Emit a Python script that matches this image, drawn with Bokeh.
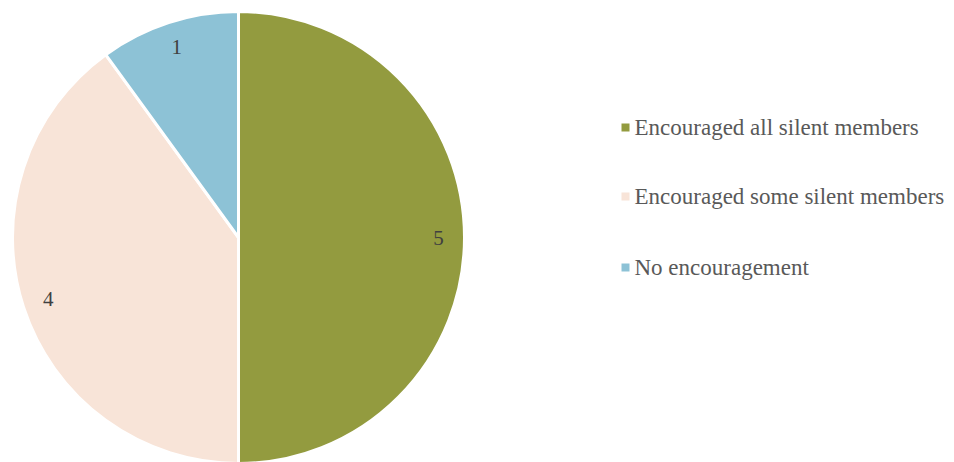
import math
from bokeh.plotting import figure
from bokeh.models import Range1d, ColumnDataSource
from bokeh.core.properties import value
from bokeh.embed import file_html
from bokeh.resources import INLINE

categories = ["Encouraged all silent members", "Encouraged some silent members", "No encouragement"]
counts = [5, 4, 1]
colors = ["#939B3F", "#F8E4D8", "#8DC2D6"]

W, H = 954, 462
p = figure(width=W, height=H, output_backend="svg", toolbar_location=None,
           x_range=Range1d(0, W), y_range=Range1d(0, H), min_border=0)
p.axis.visible = False
p.grid.visible = False
p.outline_line_color = None
p.background_fill_color = "white"
p.border_fill_color = "white"

cx, cy, R = 238, H - 237, 226
total = sum(counts)
starts, ends, mids = [], [], []
cum = 0
for c in counts:
    a0 = math.pi / 2 - 2 * math.pi * cum / total
    cum += c
    a1 = math.pi / 2 - 2 * math.pi * cum / total
    starts.append(a0); ends.append(a1); mids.append((a0 + a1) / 2)

src = ColumnDataSource(dict(start=starts, end=ends, color=colors, cat=categories))
p.wedge(x=cx, y=cy, radius=R, start_angle="start", end_angle="end", direction="clock",
        fill_color="color", line_color="white", line_width=3, source=src)

lr = 0.885 * R
lx = [cx + lr * math.cos(m) for m in mids]
ly = [cy + lr * math.sin(m) for m in mids]
p.text(x=lx, y=ly, text=[str(c) for c in counts], text_align="center", text_baseline="middle",
       text_font=value("Liberation Serif"), text_font_size="21px", text_color="#404040")

# legend
leg_x = 625
leg_y = [H - 127, H - 196, H - 267]
p.scatter(x=[leg_x] * 3, y=leg_y, marker="square", size=8, fill_color=colors, line_color=None)
p.text(x=[leg_x + 9] * 3, y=leg_y, text=categories, text_align="left", text_baseline="middle",
       text_font=value("Liberation Serif"), text_font_size="23px", text_color="#595959")

open("out.html", "w").write(file_html(p, INLINE))
